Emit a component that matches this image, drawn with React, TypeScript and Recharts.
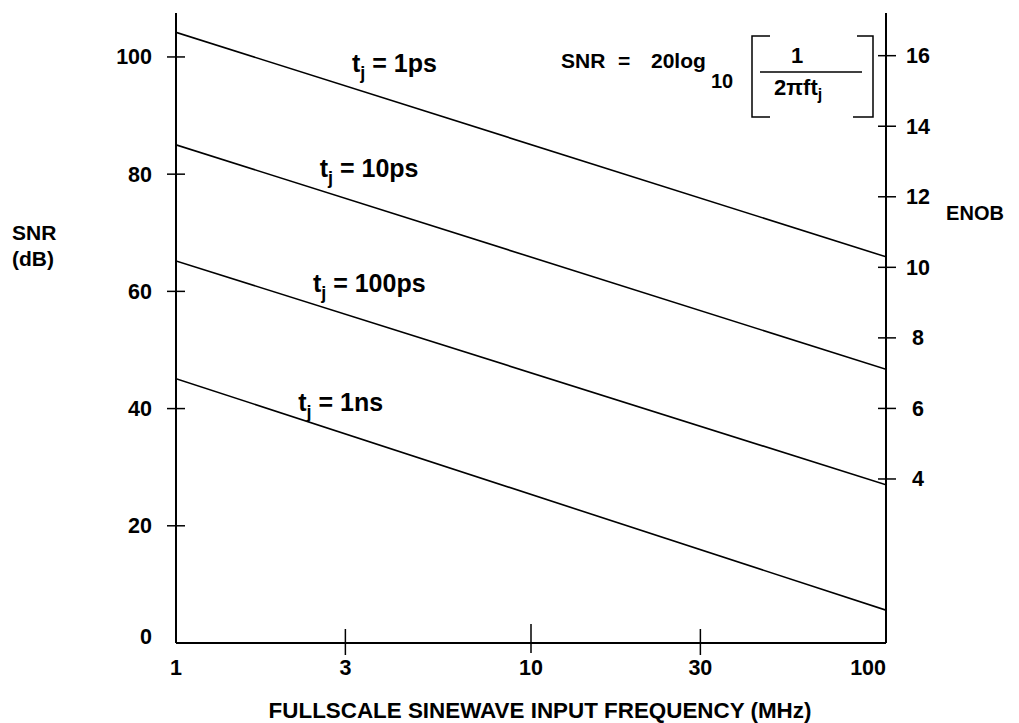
import React from "react";
import {
  LineChart,
  Line,
  XAxis,
  YAxis,
  ReferenceDot,
} from "recharts";

// input frequency, MHz (log axis)
const FREQ = [1, 100];
const X_TICKS = [1, 3, 10, 30, 100];

// SNR (dB) at 1 MHz and 100 MHz
const JITTERS = ["1ps", "10ps", "100ps", "1ns"];
const SNR_1PS = [104.2, 65.9];
const SNR_10PS = [85.0, 46.7];
const SNR_100PS = [65.2, 27.0];
const SNR_1NS = [45.1, 5.6];

const SNR_TICKS = [0, 20, 40, 60, 80, 100];
const ENOB_TICKS = [4, 6, 8, 10, 12, 14, 16];

// where each "tj = ..." label sits, in (MHz, dB)
const LABEL_FREQ = [3.13, 2.54, 2.43, 2.21];
const LABEL_SNR = [97.4, 79.5, 59.9, 39.6];

const FONT = "'Liberation Sans', Arial, Helvetica, sans-serif";

const data = FREQ.map((f, i) => ({
  f,
  s1ps: SNR_1PS[i],
  s10ps: SNR_10PS[i],
  s100ps: SNR_100PS[i],
  s1ns: SNR_1NS[i],
}));
const seriesKeys = ["s1ps", "s10ps", "s100ps", "s1ns"];

function FreqTick(props: any) {
  const { x, y, payload } = props;
  const v = payload.value;
  const major = v === 10;
  const drawLine = v !== 1 && v !== 100;
  return (
    <g>
      {drawLine && (
        <line
          x1={x}
          x2={x}
          y1={y - (major ? 19 : 14)}
          y2={y + (major ? 10 : 12)}
          stroke="#000"
          strokeWidth={1.5}
        />
      )}
      <text
        x={x}
        y={y + 32}
        textAnchor={v === 100 ? "end" : "middle"}
        fontFamily={FONT}
        fontWeight="bold"
        fontSize={21.5}
        fill="#000"
      >
        {v}
      </text>
    </g>
  );
}

function SnrTick(props: any) {
  const { x, y, payload } = props;
  const v = payload.value;
  return (
    <g>
      {v !== 0 && (
        <line x1={x - 9} x2={x + 9} y1={y} y2={y} stroke="#000" strokeWidth={1.5} />
      )}
      <text
        x={x - 24}
        y={v === 0 ? y + 0.5 : y + 7.5}
        textAnchor="end"
        fontFamily={FONT}
        fontWeight="bold"
        fontSize={21.5}
        fill="#000"
      >
        {v}
      </text>
    </g>
  );
}

function EnobTick(props: any) {
  const { x, y, payload } = props;
  return (
    <g>
      <line x1={x - 8} x2={x + 10} y1={y} y2={y} stroke="#000" strokeWidth={1.5} />
      <text
        x={x + 32}
        y={y + 7.5}
        textAnchor="middle"
        fontFamily={FONT}
        fontWeight="bold"
        fontSize={21.5}
        fill="#000"
      >
        {payload.value}
      </text>
    </g>
  );
}

function JitterLabel(props: any) {
  const { viewBox, tag } = props;
  if (!viewBox) return null;
  return (
    <text
      x={viewBox.x}
      y={viewBox.y}
      fontFamily={FONT}
      fontWeight="bold"
      fontSize={25}
      fill="#000"
    >
      t
      <tspan fontSize={18} dy={7}>
        j
      </tspan>
      <tspan dy={-7}>{" = " + tag}</tspan>
    </text>
  );
}

function Formula() {
  const txt = { fontFamily: FONT, fontWeight: "bold" as const, fill: "#000" };
  return (
    <svg
      width={1019}
      height={723}
      style={{ position: "absolute", left: 0, top: 0, pointerEvents: "none" }}
    >
      <text x={561} y={68} fontSize={21} {...txt}>
        SNR
      </text>
      <text x={618} y={68} fontSize={21} {...txt}>
        =
      </text>
      <text x={651} y={68} fontSize={21} {...txt}>
        20log
      </text>
      <text x={711} y={88} fontSize={20} {...txt}>
        10
      </text>
      <path d="M770 36 H752 V117 H770" fill="none" stroke="#000" strokeWidth={1.5} />
      <path d="M857 36 H873 V117 H853" fill="none" stroke="#000" strokeWidth={1.5} />
      <text x={797} y={63} fontSize={22} textAnchor="middle" {...txt}>
        1
      </text>
      <line x1={760} x2={862} y1={72} y2={72} stroke="#000" strokeWidth={1.5} />
      <text x={774} y={95} fontSize={22} {...txt}>
        2πft
        <tspan fontSize={16} dy={5}>
          j
        </tspan>
      </text>

      <text x={12} y={240} fontSize={21} {...txt}>
        SNR
      </text>
      <text x={12} y={266} fontSize={21} {...txt}>
        (dB)
      </text>
      <text x={975} y={220} fontSize={20} textAnchor="middle" {...txt}>
        ENOB
      </text>
      <text x={540} y={718} fontSize={22.4} textAnchor="middle" {...txt}>
        FULLSCALE SINEWAVE INPUT FREQUENCY (MHz)
      </text>
    </svg>
  );
}

export default function App() {
  return (
    <div
      style={{
        position: "absolute",
        left: 0,
        top: 0,
        width: 1019,
        height: 723,
        background: "#fff",
      }}
    >
      <LineChart
        width={1019}
        height={723}
        data={data}
        margin={{ top: 13, right: 0, bottom: 50, left: 0 }}
      >
        <XAxis
          dataKey="f"
          type="number"
          scale="log"
          domain={[1, 100]}
          ticks={X_TICKS}
          allowDataOverflow
          height={30}
          tickSize={0}
          tickMargin={0}
          tickLine={false}
          axisLine={{ stroke: "#000", strokeWidth: 2 }}
          tick={<FreqTick />}
          interval={0}
        />
        <YAxis
          yAxisId="snr"
          type="number"
          domain={[0, 107.5]}
          ticks={SNR_TICKS}
          allowDataOverflow
          width={176}
          tickSize={0}
          tickMargin={0}
          tickLine={false}
          axisLine={{ stroke: "#000", strokeWidth: 2 }}
          tick={<SnrTick />}
          interval={0}
        />
        <YAxis
          yAxisId="enob"
          orientation="right"
          type="number"
          domain={[-0.65, 17.21]}
          ticks={ENOB_TICKS}
          allowDataOverflow
          width={133}
          tickSize={0}
          tickMargin={0}
          tickLine={false}
          axisLine={{ stroke: "#000", strokeWidth: 2 }}
          tick={<EnobTick />}
          interval={0}
        />
        {seriesKeys.map((k) => (
          <Line
            key={k}
            yAxisId="snr"
            type="linear"
            dataKey={k}
            stroke="#000"
            strokeWidth={1.6}
            dot={false}
            activeDot={false}
            isAnimationActive={false}
          />
        ))}
        {JITTERS.map((t, i) => (
          <ReferenceDot
            key={t}
            yAxisId="snr"
            x={LABEL_FREQ[i]}
            y={LABEL_SNR[i]}
            r={0}
            fill="none"
            stroke="none"
            ifOverflow="visible"
            label={<JitterLabel tag={t} />}
          />
        ))}
      </LineChart>
      <Formula />
    </div>
  );
}
